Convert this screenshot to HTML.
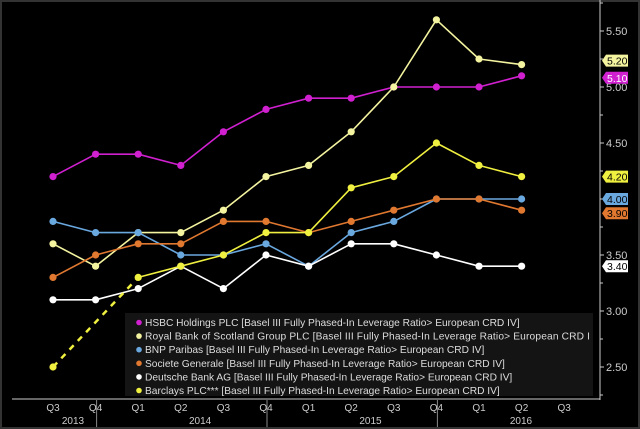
<!DOCTYPE html>
<html><head><meta charset="utf-8"><style>
html,body{margin:0;padding:0;background:#000;}
svg{display:block;font-family:"Liberation Sans",sans-serif;}
</style></head><body>
<svg id="chart" width="640" height="429" viewBox="0 0 640 429">
<rect x="0" y="0" width="640" height="429" fill="#000"/>
<rect x="1" y="1" width="638" height="427" fill="none" stroke="#333" stroke-width="2"/>
<g id="axes"></g><g id="series"></g><g id="legend"></g><g id="tags"></g>
</svg>
<script>
const categories=["Q3","Q4","Q1","Q2","Q3","Q4","Q1","Q2","Q3","Q4","Q1","Q2","Q3"];
const years=["2013","2014","2015","2016"];
const yTicks=[2.5,3.0,3.5,4.0,4.5,5.0,5.5];
const hsbc=[4.2,4.4,4.4,4.3,4.6,4.8,4.9,4.9,5.0,5.0,5.0,5.1];
const rbs=[3.6,3.4,3.7,3.7,3.9,4.2,4.3,4.6,5.0,5.6,5.25,5.2];
const bnp=[3.8,3.7,3.7,3.5,3.5,3.6,3.4,3.7,3.8,4.0,4.0,4.0];
const socgen=[3.3,3.5,3.6,3.6,3.8,3.8,3.7,3.8,3.9,4.0,4.0,3.9];
const deutsche=[3.1,3.1,3.2,3.4,3.2,3.5,3.4,3.6,3.6,3.5,3.4,3.4];
const barclays=[2.5,null,3.3,3.4,3.5,3.7,3.7,4.1,4.2,4.5,4.3,4.2];
const seriesNames=["HSBC Holdings PLC [Basel III Fully Phased-In Leverage Ratio> European CRD IV]","Royal Bank of Scotland Group PLC [Basel III Fully Phased-In Leverage Ratio> European CRD I","BNP Paribas [Basel III Fully Phased-In Leverage Ratio> European CRD IV]","Societe Generale [Basel III Fully Phased-In Leverage Ratio> European CRD IV]","Deutsche Bank AG [Basel III Fully Phased-In Leverage Ratio> European CRD IV]","Barclays PLC*** [Basel III Fully Phased-In Leverage Ratio> European CRD IV]"];
const NS="http://www.w3.org/2000/svg";
const X=i=>53+i*42.6;
const Y=v=>87+(5-v)*112;
function mk(tag,attrs,parent,text){const e=document.createElementNS(NS,tag);for(const k in attrs)e.setAttribute(k,attrs[k]);if(text!==undefined)e.textContent=text;parent.appendChild(e);return e;}
const axes=document.getElementById('axes');
let e;
e=mk('line',{x1:600,y1:0,x2:600,y2:400,stroke:'#ccc','stroke-width':1},axes);


e=mk('line',{x1:12,y1:399,x2:600,y2:399,stroke:'#ccc','stroke-width':1},axes);


yTicks.forEach(v=>{
 e=mk('line',{x1:600,y1:Y(v),x2:604,y2:Y(v),stroke:'#ccc'},axes);
 
 
 e=mk('text',{x:606,y:Y(v)+4,fill:'#ccc','font-size':11},axes,v.toFixed(2));
 
 
});
for(let v=2.25;v<5.8;v+=0.5){e=mk('line',{x1:600,y1:Y(v),x2:603,y2:Y(v),stroke:'#ccc'},axes);
 
 }
categories.forEach((c,i)=>{
 e=mk('text',{x:X(i),y:411,fill:'#ccc','font-size':10,'text-anchor':'middle'},axes,c);
 
 
});
const yearPos=[[0,1],[2,5],[6,9],[10,12]];
years.forEach((y,i)=>{
 const cx=i===0?73:(i===3?521:(X(yearPos[i][0])+X(yearPos[i][1]))/2-2);
 e=mk('text',{x:cx,y:424,fill:'#ccc','font-size':10,'text-anchor':'middle'},axes,y);
 
 
});
[1,5,9].forEach(i=>{const x=(X(i)+1);e=mk('line',{x1:x,y1:400,x2:x,y2:427,stroke:'#888'},axes);
 
 });
const defs=[[hsbc,'#d020d0','hsbc'],[rbs,'#f4f4a0','rbs'],[bnp,'#6aa8e0','bnp'],[socgen,'#e07830','socgen'],[deutsche,'#ffffff','deutsche'],[barclays,'#f0f040','barclays']];
const sg=document.getElementById('series');
defs.forEach(([d,col,nm])=>{
 const g=mk('g',{},sg);
 
 
 const idx=d.map((v,i)=>v===null?null:i).filter(i=>i!==null);
 for(let k=0;k<idx.length-1;k++){const a=idx[k],b=idx[k+1];
  const ln=mk('line',{x1:X(a),y1:Y(d[a]),x2:X(b),y2:Y(d[b]),stroke:col,'stroke-width':1.6},g);
  if(b-a>1){ln.setAttribute('stroke-dasharray','6,6');ln.setAttribute('stroke-width',2.5);}
  
  }
 idx.forEach(i=>{const c=mk('circle',{cx:X(i),cy:Y(d[i]),r:3.6,fill:col},g);
  
  });
});
const lg=document.getElementById('legend');
e=mk('rect',{x:125,y:313,width:468,height:83,fill:'#141414'},lg);


seriesNames.forEach((n,i)=>{
 const y=326+i*13.6;
 e=mk('circle',{cx:139,cy:y-3.5,r:2.8,fill:defs[i][1]},lg);
 
 
 e=mk('text',{x:145,y:y,fill:'#ddd','font-size':10.2,textLength:n.length>80?445:0},lg,n);
 if(n.length<=80)e.removeAttribute('textLength');
 
 
});
const tg=document.getElementById('tags');
const tagDefs=[[5.2,'#f4f4a0','#000',-4],[5.1,'#d020d0','#fff',2],[4.2,'#f0f040','#000',0],[4.0,'#6aa8e0','#000',0],[3.9,'#e07830','#000',3],[3.4,'#fff','#000',0]];
tagDefs.forEach(([v,bg,fg,dy])=>{
 const y=Y(v)+dy;
 e=mk('path',{d:`M602 ${y} L606 ${y-6} L628 ${y-6} L628 ${y+6} L606 ${y+6} Z`,fill:bg},tg);
 
 
 e=mk('text',{x:607,y:y+4,fill:fg,'font-size':10.5},tg,v.toFixed(2));
 
 
});
</script>
</body></html>
